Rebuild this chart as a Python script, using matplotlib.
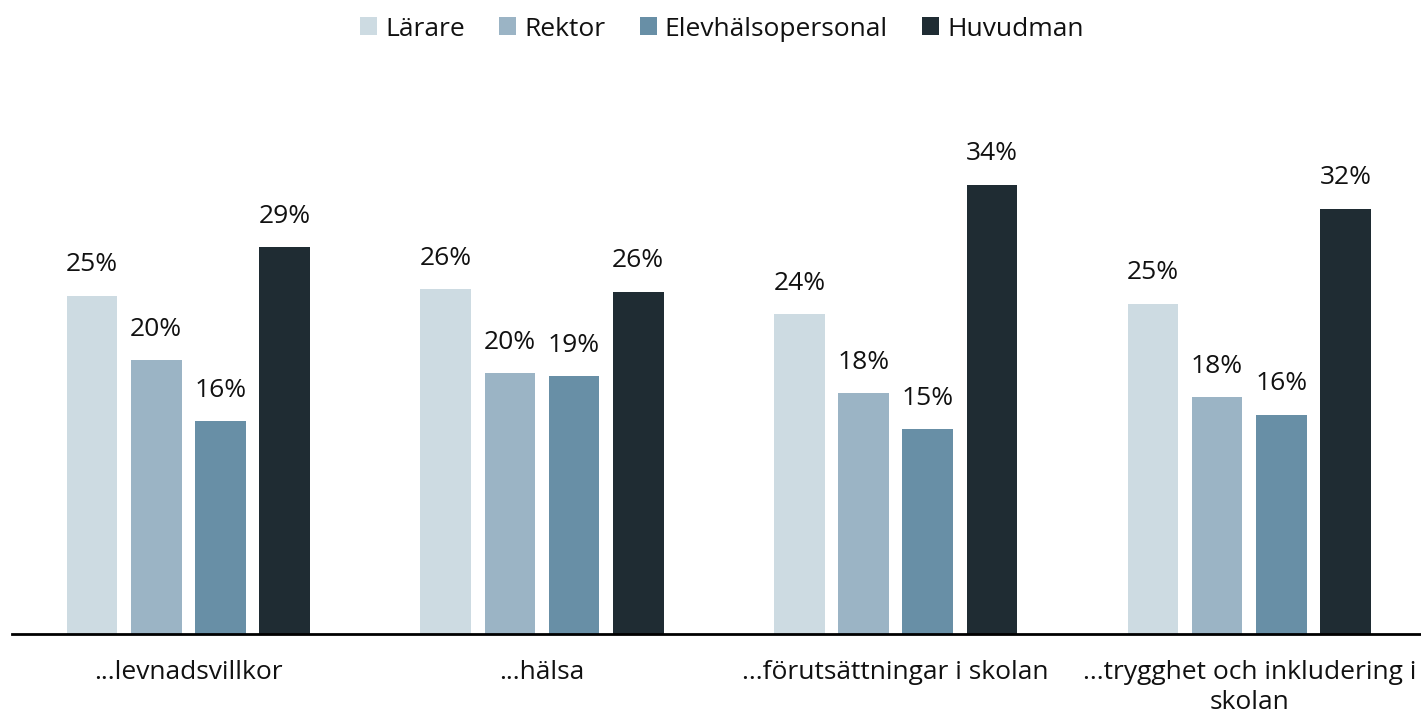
import matplotlib
matplotlib.use("Agg")
import matplotlib.pyplot as plt
import numpy as np

plt.rcParams['font.family'] = ['Open Sans', 'DejaVu Sans']

categories = ["...levnadsvillkor", "...hälsa", "...förutsättningar i skolan",
              "...trygghet och inkludering i\nskolan"]
series = ["Lärare", "Rektor", "Elevhälsopersonal", "Huvudman"]
larare = [25.3, 25.8, 23.9, 24.7]
rektor = [20.5, 19.5, 18.0, 17.7]
elevhalsa = [15.9, 19.3, 15.3, 16.4]
huvudman = [28.9, 25.6, 33.6, 31.8]
labels = [["25%", "26%", "24%", "25%"],
          ["20%", "20%", "18%", "18%"],
          ["16%", "19%", "15%", "16%"],
          ["29%", "26%", "34%", "32%"]]
colors = ["#CDDBE2", "#9BB4C5", "#688FA6", "#1F2C33"]

values = [larare, rektor, elevhalsa, huvudman]

W, H = 1421, 722
fig = plt.figure(figsize=(W / 100, H / 100), dpi=100)
base = 634
top = 99
ax = fig.add_axes([11.6 / W, (H - base) / H, (1426 - 11.6) / W, (base - top) / H])

x = np.arange(len(categories))
pitch = 0.1815
width = 0.143
for i, (vals, c) in enumerate(zip(values, colors)):
    pos = x + (i - 1.5) * pitch
    ax.bar(pos, vals, width=width, color=c, label=series[i], zorder=2)
    for p, v, lab in zip(pos, vals, labels[i]):
        ax.annotate(lab, (p, v), xytext=(0, 17.5), textcoords="offset points",
                    ha="center", va="baseline", fontsize=19, color="#111111")

ax.set_xlim(-0.5, 3.5)
ax.set_ylim(0, 535 / 13.375)
for s in ["left", "right", "top"]:
    ax.spines[s].set_visible(False)
ax.spines["bottom"].set_linewidth(2)
ax.spines["bottom"].set_color("#000000")
ax.set_yticks([])
ax.set_xticks(x)
ax.set_xticklabels(categories, fontsize=19, color="#111111", linespacing=1.25)
ax.tick_params(axis="x", length=0, pad=19)

fig.legend(loc="center", bbox_to_anchor=(722 / W, 1 - 29 / H), ncol=4, frameon=False,
           fontsize=19, handlelength=0.65, handleheight=0.65, handletextpad=0.3,
           columnspacing=1.3, borderpad=0, labelcolor="#111111")

fig.savefig("out.png", dpi=100)
